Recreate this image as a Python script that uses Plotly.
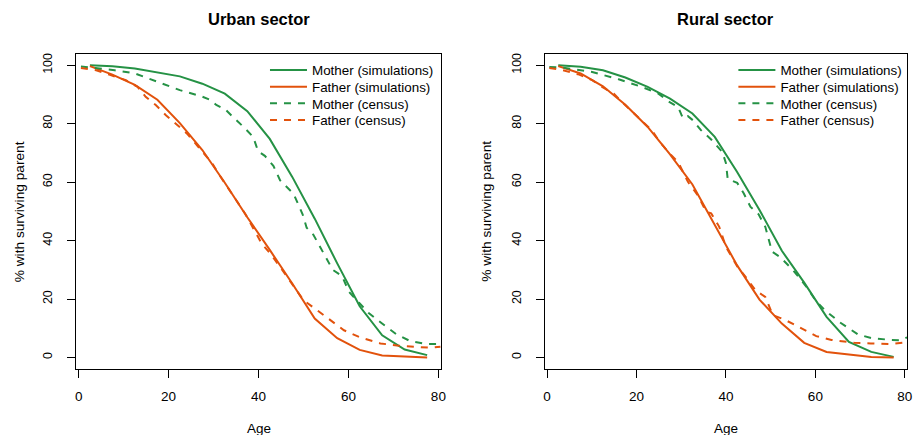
import plotly.graph_objects as go

# ---------------- data ----------------
sim_age = [2.5, 7.5, 12.5, 17.5, 22.5, 27.5, 32.5, 37.5, 42.5, 47.5, 52.5, 57.5, 62.5, 67.5, 72.5, 77.5]

urban_mother_sim = [100.0, 99.7, 98.9, 97.6, 96.2, 93.7, 90.3, 84.3, 74.8, 61.8, 47.5, 32.2, 17.5, 7.6, 2.7, 0.8]
urban_father_sim = [99.7, 96.8, 93.3, 88.2, 80.2, 71.0, 59.8, 48.0, 36.8, 25.3, 13.3, 6.6, 2.6, 0.7, 0.3, 0.0]
rural_mother_sim = [100.0, 99.5, 98.3, 95.8, 92.6, 88.6, 83.5, 75.5, 63.5, 50.5, 36.5, 25.6, 13.9, 5.3, 1.9, 0.2]
rural_father_sim = [99.7, 97.2, 92.8, 86.5, 78.9, 69.5, 59.2, 45.5, 31.5, 19.8, 11.6, 5.0, 1.9, 1.0, 0.2, 0.0]

urban_mother_cen_age = [0.5, 4, 8, 12.5, 17.5, 22.5, 27.4, 29.5, 30.6, 32.6, 34.5, 36.6, 38.8, 39.9, 41.4,
                        43.3, 44.8, 46.3, 47.8, 49.8, 50.7, 52.2, 54.4, 56.5, 58.6, 60.1, 62.3, 64.5,
                        67.4, 70.6, 73.6, 77.3, 80.5]
urban_mother_cen = [99.6, 99.1, 98.3, 97.2, 94.4, 91.5, 89.3, 88.0, 86.4, 84.9, 82.0, 79.0, 75.5, 70.6, 69.0,
                    65.6, 60.6, 58.4, 56.0, 49.0, 44.4, 42.0, 36.0, 30.0, 27.8, 22.5, 18.8, 15.2,
                    11.7, 8.0, 5.7, 4.6, 4.6]

urban_father_cen_age = [0.5, 3.9, 6.8, 10.5, 13.1, 14.9, 17.2, 19.4, 21.6, 24.1, 26.0, 29.7, 31.1, 34.1,
                        35.9, 37.0, 40.7, 42.6, 44.5, 46.3, 47.8, 50.0, 53.0, 56.0, 59.0, 62.7, 67.1,
                        70.8, 74.5, 78.3, 80.5]
urban_father_cen = [99.1, 98.3, 96.8, 94.9, 92.6, 89.2, 86.3, 82.9, 80.0, 76.6, 73.2, 66.4, 62.9, 56.1,
                    52.1, 49.3, 39.0, 35.6, 31.6, 27.6, 24.2, 19.6, 16.2, 12.8, 9.3, 6.8, 4.8,
                    4.1, 3.7, 3.3, 3.7]

rural_mother_cen_age = [0.5, 3.6, 10.1, 16.0, 21.2, 24.9, 27.1, 29.3, 30.4, 31.5, 32.6, 34.4, 36.7, 39.2,
                        40.0, 40.4, 42.5, 44.0, 45.5, 47.3, 48.8, 50.3, 52.1, 55.0, 58.0, 60.0, 62.1,
                        65.5, 69.5, 72.6, 76.9, 79.1, 80.5]
rural_mother_cen = [99.4, 99.2, 97.7, 95.2, 92.6, 90.3, 87.7, 85.7, 81.8, 82.6, 81.2, 77.8, 74.6, 70.3,
                    66.5, 61.0, 59.8, 56.1, 51.5, 49.0, 44.7, 36.2, 34.4, 29.9, 24.2, 19.6, 16.2,
                    12.0, 7.9, 6.6, 6.0, 5.9, 6.9]

rural_father_cen_age = [0.5, 3.5, 7.2, 10.1, 12.3, 14.9, 17.1, 21.2, 23.4, 25.2, 27.1, 29.3, 31.5, 33.7,
                        35.6, 36.7, 38.5, 40.0, 42.6, 44.4, 46.6, 48.8, 50.5, 53.3, 56.2, 60.2, 63.6,
                        68.7, 72.4, 76.9, 80.5]
rural_father_cen = [99.1, 98.3, 96.8, 94.9, 92.6, 90.3, 86.9, 81.2, 77.8, 73.8, 70.3, 66.9, 60.1, 55.5,
                    49.8, 49.3, 44.7, 37.8, 31.0, 27.6, 23.0, 20.7, 14.5, 12.8, 10.5, 7.3, 6.0,
                    5.0, 4.8, 4.6, 5.2]

x_ticks = [0, 20, 40, 60, 80]
y_ticks = [0, 20, 40, 60, 80, 100]
panel_titles = ["Urban sector", "Rural sector"]
series_names = ["Mother (simulations)", "Father (simulations)", "Mother (census)", "Father (census)"]

# ---------------- style ----------------
GREEN = "#259245"
ORANGE = "#E2520C"
FONT = "Liberation Sans, Arial, Helvetica, sans-serif"
W, H = 920, 435

fig = go.Figure()

panels = [
    ("x", "y", 265, [(sim_age, urban_mother_sim), (sim_age, urban_father_sim),
                     (urban_mother_cen_age, urban_mother_cen), (urban_father_cen_age, urban_father_cen)]),
    ("x2", "y2", 737, [(sim_age, rural_mother_sim), (sim_age, rural_father_sim),
                       (rural_mother_cen_age, rural_mother_cen), (rural_father_cen_age, rural_father_cen)]),
]
styles = [(GREEN, "solid"), (ORANGE, "solid"), (GREEN, "7px,7px"), (ORANGE, "7px,7px")]
legend_rows = [69.5, 86.2, 102.8, 119.5]

legends = {}
k = 0
for xa, ya, lx, series in panels:
    for (xs, ys), name, (col, dash), ry in zip(series, series_names, styles, legend_rows):
        k += 1
        lname = "legend" if k == 1 else "legend%d" % k
        fig.add_trace(go.Scatter(x=xs, y=ys, mode="lines", name=name, xaxis=xa, yaxis=ya,
                                 legend=lname, showlegend=True,
                                 line=dict(color=col, width=2, dash=dash)))
        legends[lname] = dict(x=lx / W, y=1 - ry / H, xanchor="left", yanchor="middle",
                              bgcolor="rgba(0,0,0,0)", borderwidth=0, itemwidth=37, visible=True,
                              font=dict(size=13.4, family=FONT, color="black"))

ybot, ytop = 1 - 369 / H, 1 - 52.7 / H
dom1 = [75 / W, 442 / W]
dom2 = [547 / W, 912 / W]

axis_common = dict(showline=True, mirror=True, linecolor="black", linewidth=1,
                   ticks="outside", ticklen=8, tickcolor="black", tickwidth=1,
                   showgrid=False, zeroline=False)
xfont = dict(size=13.5, color="black", family=FONT)
yfont = dict(size=12.5, color="black", family=FONT)

fig.update_layout(
    width=W, height=H,
    showlegend=True,
    margin=dict(l=0, r=0, t=0, b=0),
    paper_bgcolor="white", plot_bgcolor="white",
    font=dict(family=FONT, size=13.5, color="black"),
    xaxis=dict(domain=dom1, range=[-0.5, 80.5], tickvals=x_ticks, anchor="y",
               ticklabelstandoff=7, tickfont=xfont, **axis_common),
    yaxis=dict(domain=[ybot, ytop], range=[-4, 104], tickvals=y_ticks, tickangle=-90, anchor="x",
               ticklabelstandoff=10, tickfont=yfont, **axis_common),
    xaxis2=dict(domain=dom2, range=[-0.5, 80.5], tickvals=x_ticks, anchor="y2",
                ticklabelstandoff=7, tickfont=xfont, **axis_common),
    yaxis2=dict(domain=[ybot, ytop], range=[-4, 104], tickvals=y_ticks, tickangle=-90, anchor="x2",
                ticklabelstandoff=10, tickfont=yfont, **axis_common),
    **legends,
)

centers = [(dom1[0] + dom1[1]) / 2, (dom2[0] + dom2[1]) / 2]
ymid = (ybot + ytop) / 2
for cx, title, ytx in zip(centers, panel_titles, [17 / W, 488 / W]):
    fig.add_annotation(text=title, x=cx, y=1 - 18 / H, xref="paper", yref="paper", showarrow=False,
                       xanchor="center", yanchor="middle",
                       font=dict(size=16.5, family=FONT, color="black", weight="bold"))
    fig.add_annotation(text="Age", x=cx, y=1 - 428 / H, xref="paper", yref="paper", showarrow=False,
                       xanchor="center", yanchor="middle", font=dict(size=13.5, family=FONT, color="black"))
    fig.add_annotation(text="% with surviving parent", x=ytx, y=ymid, xref="paper", yref="paper",
                       showarrow=False, textangle=-90, xanchor="center", yanchor="middle",
                       font=dict(size=13.7, family=FONT, color="black"))

fig.write_html("out.html", config={"displayModeBar": False},
               post_script="document.body.style.margin='0';document.body.style.overflow='hidden';")
